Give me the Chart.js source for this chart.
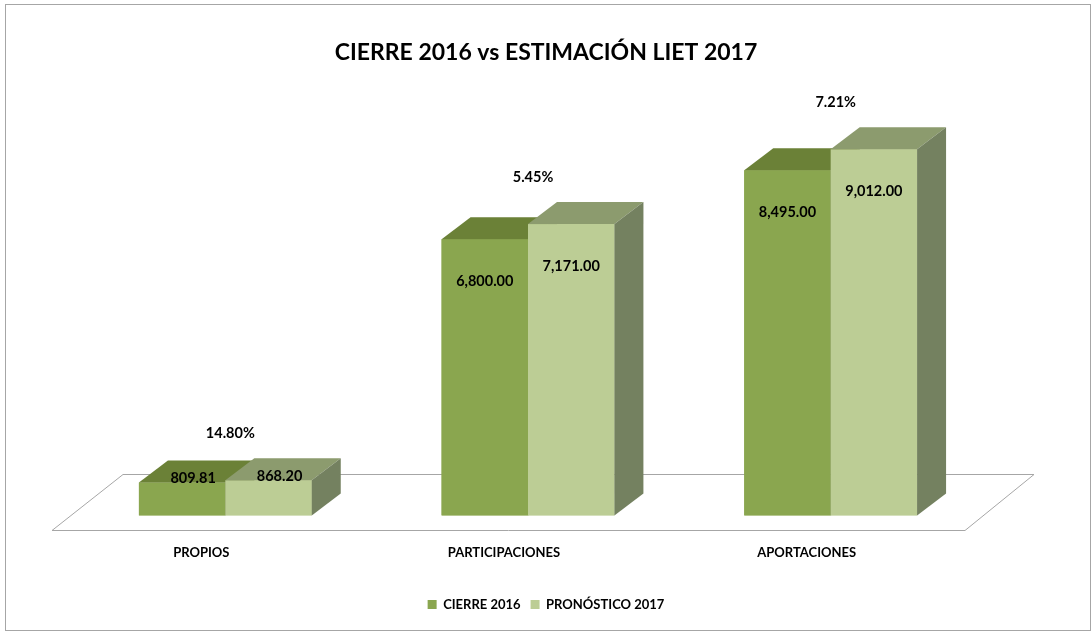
<!DOCTYPE html>
<html>
<head>
<meta charset="utf-8">
<script src="https://cdn.jsdelivr.net/npm/chart.js@4.4.1/dist/chart.umd.min.js"></script>
<style>
  body { margin: 0; background: #fff; }
  #wrap { position: relative; width: 1092px; height: 632px; }
  #frame { position: absolute; left: 5px; top: 4px; width: 1086px; height: 627px; border: 1px solid #a6a6a6; box-sizing: border-box; }
  #myChart { position: absolute; left: 0; top: 0; }
</style>
</head>
<body>
<div id="wrap">
  <div id="frame"></div>
  <canvas id="myChart" width="1092" height="632"></canvas>
</div>
<script>
const categories = ['PROPIOS', 'PARTICIPACIONES', 'APORTACIONES'];
const cierre2016 = [809.81, 6800.00, 8495.00];
const pronostico2017 = [868.20, 7171.00, 9012.00];
const pctLabels = ['14.80%', '5.45%', '7.21%'];

const FONT = 'Lato, "Open Sans", sans-serif';
const depthX = 29, depthY = -22;

// colours for the front / top / side of each series
const faces = [
  { front: '#8aa64f', top: '#6b8137', side: '#67793d' },
  { front: '#bccd95', top: '#8c9b6e', side: '#748160' }
];

const fmt = v => v.toLocaleString('en-US', { minimumFractionDigits: 2, maximumFractionDigits: 2 });

const bars3d = {
  id: 'bars3d',
  beforeDatasetsDraw(chart) {
    const { ctx, chartArea, scales } = chart;
    const base = scales.y.getPixelForValue(0);
    ctx.save();
    ctx.beginPath();
    ctx.moveTo(chartArea.left - 22, base + 15);
    ctx.lineTo(chartArea.right - 17, base + 15);
    ctx.lineTo(chartArea.right + 52, base - 41);
    ctx.lineTo(chartArea.left + 49, base - 41);
    ctx.closePath();
    ctx.fillStyle = '#ffffff';
    ctx.fill();
    ctx.strokeStyle = '#a6a6a6';
    ctx.lineWidth = 1;
    ctx.stroke();
    ctx.restore();
  },
  afterDatasetsDraw(chart) {
    const { ctx, scales } = chart;
    const n = chart.data.labels.length;
    ctx.save();
    for (let j = 0; j < n; j++) {
      chart.data.datasets.forEach((ds, i) => {
        const bar = chart.getDatasetMeta(i).data[j].getProps(['x', 'y', 'base', 'width'], true);
        const l = bar.x - bar.width / 2, r = bar.x + bar.width / 2;
        const c = faces[i];
        // front
        ctx.fillStyle = c.front;
        ctx.fillRect(l, bar.y, r - l, bar.base - bar.y);
        // top
        ctx.beginPath();
        ctx.moveTo(l, bar.y);
        ctx.lineTo(r, bar.y);
        ctx.lineTo(r + depthX, bar.y + depthY);
        ctx.lineTo(l + depthX, bar.y + depthY);
        ctx.closePath();
        ctx.fillStyle = c.top;
        ctx.fill();
        // side
        ctx.beginPath();
        ctx.moveTo(r, bar.y);
        ctx.lineTo(r + depthX, bar.y + depthY);
        ctx.lineTo(r + depthX, bar.base + depthY);
        ctx.lineTo(r, bar.base);
        ctx.closePath();
        ctx.fillStyle = c.side;
        ctx.fill();
      });
    }
    // value labels
    ctx.fillStyle = '#000';
    ctx.font = 'bold 14.5px ' + FONT;
    ctx.textAlign = 'center';
    ctx.textBaseline = 'middle';
    chart.data.datasets.forEach((ds, i) => {
      chart.getDatasetMeta(i).data.forEach((el, j) => {
        const bar = el.getProps(['x', 'y', 'base'], true);
        const h = bar.base - bar.y;
        if (h > 84) ctx.fillText(fmt(ds.data[j]), bar.x, bar.y + 42);
        else ctx.fillText(fmt(ds.data[j]), bar.x + 11, bar.y - 4);
      });
    });
    // change labels above each group
    for (let j = 0; j < n; j++) {
      const tops = chart.data.datasets.map((ds, i) => chart.getDatasetMeta(i).data[j].y);
      ctx.fillText(pctLabels[j], scales.x.getPixelForValue(j) + 5, Math.min(...tops) - 47);
    }
    ctx.restore();
  }
};

new Chart(document.getElementById('myChart'), {
  type: 'bar',
  data: {
    labels: categories,
    datasets: [
      { label: 'CIERRE 2016', data: cierre2016, backgroundColor: faces[0].front, borderWidth: 0 },
      { label: 'PRONÓSTICO 2017', data: pronostico2017, backgroundColor: faces[1].front, borderWidth: 0 }
    ]
  },
  options: {
    responsive: false,
    animation: false,
    categoryPercentage: 0.571,
    barPercentage: 1.0,
    layout: { padding: { left: 74, right: 74, top: 0, bottom: 11 } },
    scales: {
      x: {
        grid: { display: false },
        border: { display: false },
        ticks: { color: '#000', font: { family: FONT, size: 13, weight: 'bold' }, padding: 22, labelOffset: -24 },
        afterFit: s => { s.height = 72.5; }
      },
      y: {
        position: 'right',
        min: 0,
        max: 10000,
        grid: { display: false },
        border: { display: false },
        ticks: { display: false },
        afterFit: s => { s.width = 36; }
      }
    },
    plugins: {
      title: {
        display: true,
        text: 'CIERRE 2016 vs ESTIMACIÓN LIET 2017',
        color: '#000',
        font: { family: FONT, size: 23, weight: 'bold' },
        padding: { top: 38.5, bottom: 43 }
      },
      legend: {
        position: 'bottom',
        labels: { color: '#000', boxWidth: 9, boxHeight: 9, padding: 10, font: { family: FONT, size: 13, weight: 'bold' } }
      },
      tooltip: { enabled: false }
    }
  },
  plugins: [bars3d]
});
</script>
</body>
</html>
